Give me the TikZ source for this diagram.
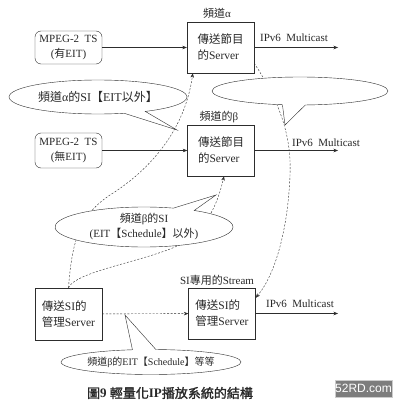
\documentclass[tikz,border=0pt]{standalone}
\usepackage{fontspec}
\setmainfont{Liberation Serif}
\newfontfamily\cjk{Noto Sans CJK TC}
\newfontfamily\cjkbold[FakeBold=1.5]{Noto Sans CJK TC}
\newfontfamily\wmfont{Liberation Sans}
\newcommand{\zh}[1]{{\cjk #1}}
\usepackage{tikz}
\usetikzlibrary{positioning, arrows.meta, calc, shapes.geometric, shapes.callouts}

\tikzset{
    srvbox/.style={draw=linegray, minimum width=67pt, minimum height=51pt,
        align=left, inner sep=0pt, font=\fontsize{11.5}{16}\selectfont},
    tsbox/.style={draw=linegray, rounded corners=6pt, minimum width=67pt,
        align=center, inner sep=0pt, font=\fontsize{11}{15}\selectfont},
    bubble/.style={ellipse callout, draw=linegray, fill=white, align=center,
        inner sep=0pt, font=\fontsize{11}{15}\selectfont},
    feed/.style={draw=linegray, -{Stealth[length=4.5pt,width=3.5pt]}},
    silink/.style={feed, dash pattern=on 2pt off 1.6pt},
    lab/.style={inner sep=0pt, font=\fontsize{11}{13}\selectfont}
}

\begin{document}
\begin{tikzpicture}[x=1pt, y=-1pt, text=ink]
    \definecolor{linegray}{RGB}{45,45,45}
    \definecolor{ink}{RGB}{40,40,40}
    \definecolor{wmgray}{RGB}{125,125,125}
    \useasboundingbox[fill=white] (0,0) rectangle (399,404);
    % sources and servers
    \node[tsbox, minimum height=33pt] (tsA) at (68.5,47.5) {MPEG-2\ \ TS\\(\zh{有}EIT)};
    \node[tsbox, minimum height=35pt] (tsB) at (68.5,150.5) {MPEG-2\ \ TS\\(\zh{無}EIT)};
    \node[srvbox] (srvA) at (220.5,47.5) {\zh{傳送節目}\\\zh{的}Server};
    \node[srvbox] (srvB) at (221,150.5) {\zh{傳送節目}\\\zh{的}Server};
    \node[srvbox, minimum height=52pt] (siA) at (68.5,314) {\zh{傳送}SI\zh{的}\\\zh{管理}Server};
    \node[srvbox] (siB) at (222,313.5) {\zh{傳送}SI\zh{的}\\\zh{管理}Server};
    % labels over the servers
    \node[lab] (chA) at (217,13) {\zh{頻道}α};
    \node[lab] (chB) at (219,117) {\zh{頻道的}β};
    \node[lab] (siStream) at (217,280) {SI\zh{專用的}Stream};
    % multicast outputs
    \coordinate (outA) at (338,47.5);
    \coordinate (outB) at (338,150.5);
    \coordinate (outS) at (338,313.5);
    \draw[feed] (tsA) -- (srvA);
    \draw[feed] (tsB) -- (srvB);
    \draw[feed] (srvA.east) -- (outA);
    \draw[feed] (srvB.east) -- (outB);
    \draw[feed] (siB.east) -- (outS);
    \node[lab] (mcA) at (294,38) {IPv6\ \ Multicast};
    \node[lab] (mcB) at (326,143) {IPv6\ \ Multicast};
    \node[lab] (mcS) at (300,304) {IPv6\ \ Multicast};
    % SI streams
    \draw[silink] (siA) -- (siB);
    \draw[silink] (siA.north) .. controls (72,240) and (80,215) .. (110,195)
        .. controls (150,170) and (185,130) .. ($(srvA.south west)+(6,0)$);
    \draw[silink] (siA.north) .. controls (75,272) and (140,262) .. (175,247)
        .. controls (200,235) and (215,215) .. ($(srvB.south)+(3,0)$);
    \draw[silink] ($(srvA.south east)+(0,-10)$) .. controls (275,95) and (292,130) .. (290,175)
        .. controls (288,230) and (275,275) .. ($(siB.north east)+(0,10)$);
    % notes
    \node[bubble, minimum width=178pt, minimum height=34pt, font=\fontsize{12}{15}\selectfont,
        callout absolute pointer={(177,130)}] (noteA) at (98,97)
        {\zh{頻道}α\zh{的}SI\zh{【}EIT\zh{以外】}};
    \node[bubble, minimum width=176pt, minimum height=28pt,
        callout absolute pointer={(285,125)}] (noteE) at (300,91) {};
    \node[bubble, minimum width=178pt, minimum height=40pt,
        callout absolute pointer={(216,195)}] (noteB) at (144,227)
        {\zh{頻道}β\zh{的}SI\\(EIT\zh{【}Schedule\zh{】以外})};
    \node[bubble, minimum width=178pt, minimum height=25pt, font=\fontsize{10}{12}\selectfont,
        callout absolute pointer={(125,315)}] (noteS) at (151,362)
        {\zh{頻道}β\zh{的}EIT\zh{【}Schedule\zh{】等等}};
    % caption and mark
    \node[inner sep=0pt, font=\fontsize{13}{15}\selectfont] (caption) at (170,393)
        {{\cjkbold 圖}\textbf{9} {\cjkbold 輕量化}\textbf{IP}{\cjkbold 播放系統的結構}};
    \node[fill=wmgray, draw=gray!40, text=white, inner sep=0pt, minimum width=57pt,
        minimum height=17pt, font=\wmfont\fontsize{12}{12}\selectfont] (mark) at (363.5,388.5) {52RD.com};
\end{tikzpicture}
\end{document}
